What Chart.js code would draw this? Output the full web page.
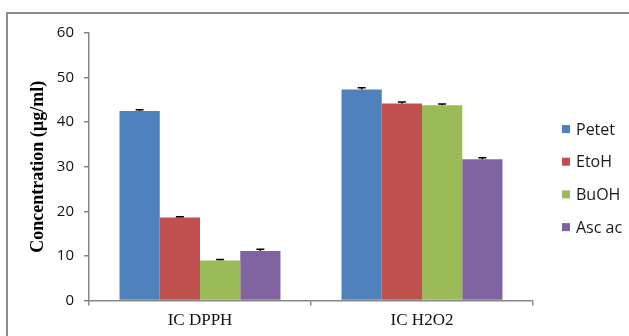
<!DOCTYPE html>
<html><head><meta charset="utf-8">
<script src="https://cdn.jsdelivr.net/npm/chart.js@4/dist/chart.umd.min.js"></script>
<style>
html,body{margin:0;padding:0;background:#fff;}
#wrap{position:relative;width:629px;height:336px;overflow:hidden;}
#frame{position:absolute;left:6px;top:12px;right:-4px;bottom:-4px;border-left:2px solid #8c8c8c;border-top:2px solid #8c8c8c;}
canvas{position:absolute;left:0;top:0;}
</style></head><body>
<div id="wrap"><div id="frame"></div><canvas id="c" width="629" height="336"></canvas></div>
<script>
// ---- data ----
const categories = ['IC DPPH', 'IC H2O2'];
const seriesNames = ['Petet', 'EtoH', 'BuOH', 'Asc ac'];
const petet = [42.5, 47.3];
const etoh = [18.6, 44.2];
const buoh = [9.0, 43.8];
const ascAc = [11.1, 31.7];
const petetErr = [0.3, 0.4];
const etohErr = [0.2, 0.3];
const buohErr = [0.2, 0.3];
const ascAcErr = [0.4, 0.3];
const yMin = 0, yMax = 60, yStep = 10;

const colors = ['#4F81BD', '#C0504D', '#9BBB59', '#8064A2'];
const values = [petet, etoh, buoh, ascAc];
const errors = [petetErr, etohErr, buohErr, ascAcErr];
const axisGray = '#878787';

const errorBars = {
  id: 'errorBars',
  afterDatasetsDraw(chart) {
    const ctx = chart.ctx, y = chart.scales.y;
    ctx.save();
    ctx.strokeStyle = '#000';
    ctx.lineWidth = 1.5;
    chart.data.datasets.forEach((ds, i) => {
      const meta = chart.getDatasetMeta(i);
      meta.data.forEach((bar, j) => {
        const v = ds.data[j], e = ds.errors[j];
        const top = y.getPixelForValue(v + e);
        ctx.beginPath();
        ctx.moveTo(bar.x, bar.y);
        ctx.lineTo(bar.x, top);
        ctx.moveTo(bar.x - 4, top);
        ctx.lineTo(bar.x + 4, top);
        ctx.stroke();
      });
    });
    ctx.restore();
  }
};

const sideLegend = {
  id: 'sideLegend',
  afterDraw(chart) {
    const ctx = chart.ctx;
    ctx.save();
    ctx.font = '16px "Open Sans"';
    ctx.textBaseline = 'middle';
    ctx.textAlign = 'left';
    chart.data.datasets.forEach((ds, i) => {
      const cy = 129 + i * 32.7;
      ctx.fillStyle = ds.backgroundColor;
      ctx.fillRect(562, cy - 4, 8, 8);
      ctx.fillStyle = '#1a1a1a';
      ctx.fillText(ds.label, 576, cy + 1);
    });
    ctx.restore();
  }
};

new Chart(document.getElementById('c'), {
  type: 'bar',
  data: {
    labels: categories,
    datasets: seriesNames.map((name, i) => ({
      label: name,
      data: values[i],
      errors: errors[i],
      backgroundColor: colors[i],
      borderWidth: 0,
      categoryPercentage: 0.725,
      barPercentage: 1.0
    }))
  },
  options: {
    responsive: false,
    animation: false,
    devicePixelRatio: 1,
    layout: { padding: { top: 33, right: 96, left: 0, bottom: 0 } },
    plugins: { legend: { display: false }, tooltip: { enabled: false } },
    scales: {
      x: {
        afterFit(s) { s.height = 35.5; },
        grid: { display: true, drawOnChartArea: false, drawTicks: true, tickLength: 5, offset: true, color: axisGray, lineWidth: 1.5 },
        border: { display: true, color: axisGray, width: 1.5 },
        ticks: { color: '#111', padding: 5, font: { family: '"Liberation Serif", "Times New Roman", serif', size: 17 } }
      },
      y: {
        min: yMin, max: yMax,
        afterFit(s) { s.width = 89; },
        grid: { display: true, drawOnChartArea: false, drawTicks: true, tickLength: 5, color: axisGray, lineWidth: 1.5 },
        border: { display: true, color: axisGray, width: 1.5 },
        ticks: { stepSize: yStep, color: '#111', padding: 10, font: { family: '"Open Sans", sans-serif', size: 15 } },
        title: {
          display: true,
          text: 'Concentration (µg/ml)',
          color: '#000',
          padding: { top: 28, bottom: 0 },
          font: { family: '"Liberation Serif", "Times New Roman", serif', size: 18, weight: 'bold' }
        }
      }
    }
  },
  plugins: [errorBars, sideLegend]
});
</script>
</body></html>
